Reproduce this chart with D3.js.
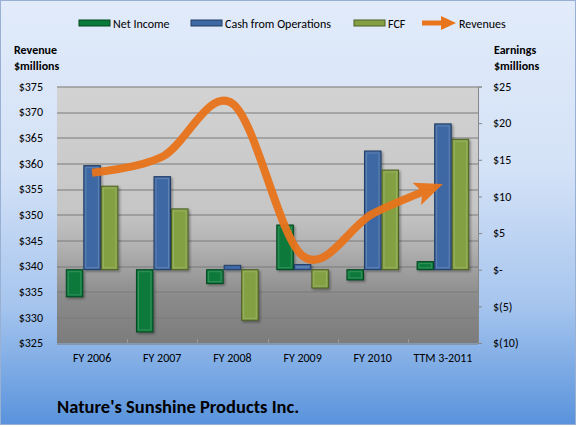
<!DOCTYPE html>
<html>
<head>
<meta charset="utf-8">
<script src="https://cdn.jsdelivr.net/npm/d3@7"></script>
<style>
  body { margin: 0; padding: 0; }
  svg text { font-family: Carlito, Calibri, Lato, "Open Sans", sans-serif; fill: #000; }
</style>
</head>
<body>
<div id="chart"></div>
<script>
// ---- data ----
const categories = ["FY 2006", "FY 2007", "FY 2008", "FY 2009", "FY 2010", "TTM 3-2011"];
const netIncome = [-3.7, -8.5, -1.9, 6.1, -1.4, 1.1];
const cashOps = [14.2, 12.7, 0.6, 0.7, 16.2, 19.9];
const fcf = [11.4, 8.3, -6.9, -2.5, 13.6, 17.8];
const revenues = [358.2, 361.3, 371.7, 342.0, 350.2, 356.0];
const leftTicks = [325, 330, 335, 340, 345, 350, 355, 360, 365, 370, 375];
const rightTicks = [-10, -5, 0, 5, 10, 15, 20, 25];

const series = [
    { name: "Net Income", values: netIncome, fill: "#0b7a3b", stroke: "#05461f" },
    { name: "Cash from Operations", values: cashOps, fill: "#3e68a3", stroke: "#233d63" },
    { name: "FCF", values: fcf, fill: "#83a043", stroke: "#4c5f24" }
];

const W = 577, H = 427;
const margin = { top: 86.5, right: 99, bottom: 84, left: 57 };
const plotW = W - margin.left - margin.right;
const plotH = H - margin.top - margin.bottom;

const svg = d3.select("#chart").append("svg")
    .attr("width", W)
    .attr("height", H);

const defs = svg.append("defs");

// chart background gradient
const bg = defs.append("linearGradient").attr("id", "bgGrad")
    .attr("x1", 0).attr("y1", 0).attr("x2", 0).attr("y2", 1);
bg.append("stop").attr("offset", "0%").attr("stop-color", "#e1ebfa");
bg.append("stop").attr("offset", "40%").attr("stop-color", "#d4e2f7");
bg.append("stop").attr("offset", "72%").attr("stop-color", "#a6c5ee");
bg.append("stop").attr("offset", "100%").attr("stop-color", "#5993dc");

// plot area gradient
const pg = defs.append("linearGradient").attr("id", "plotGrad")
    .attr("x1", 0).attr("y1", 0).attr("x2", 0).attr("y2", 1);
pg.append("stop").attr("offset", "0%").attr("stop-color", "#d3d3d3");
pg.append("stop").attr("offset", "48%").attr("stop-color", "#c6c6c6");
pg.append("stop").attr("offset", "62%").attr("stop-color", "#b2b2b2");
pg.append("stop").attr("offset", "82%").attr("stop-color", "#8b8b8b");
pg.append("stop").attr("offset", "100%").attr("stop-color", "#7c7c7c");

// bar shadow
const shadow = defs.append("filter").attr("id", "shadow")
    .attr("x", "-30%").attr("y", "-30%").attr("width", "160%").attr("height", "160%");
shadow.append("feDropShadow").attr("dx", 1.5).attr("dy", 1.5)
    .attr("stdDeviation", 1).attr("flood-color", "#000").attr("flood-opacity", 0.35);

// arrow head
defs.append("marker").attr("id", "arrow")
    .attr("markerUnits", "userSpaceOnUse")
    .attr("viewBox", "0 0 28 24")
    .attr("markerWidth", 28).attr("markerHeight", 24)
    .attr("refX", 28).attr("refY", 12)
    .attr("orient", "auto")
    .append("path")
    .attr("d", "M0,0 L28,12 L0,24 L6,12 Z")
    .attr("fill", "#e8741c");

svg.append("rect")
    .attr("x", 0.5).attr("y", 0.5)
    .attr("width", W - 2).attr("height", H - 3)
    .attr("fill", "url(#bgGrad)")
    .attr("stroke", "#98b0d2");

const g = svg.append("g")
    .attr("transform", `translate(${margin.left},${margin.top})`);

// ---- scales ----
const x = d3.scaleBand().domain(categories).range([0, plotW]);
const xs = d3.scaleBand().domain(series.map(s => s.name))
    .range([0, x.bandwidth()]).paddingOuter(0.5).paddingInner(0);
const yL = d3.scaleLinear().domain([325, 375]).range([plotH, 0]);
const yR = d3.scaleLinear().domain([-10, 25]).range([plotH, 0]);

g.append("rect")
    .attr("width", plotW).attr("height", plotH)
    .attr("fill", "url(#plotGrad)");

// gridlines
g.append("g").selectAll("line")
    .data(leftTicks)
    .join("line")
    .attr("x1", 0).attr("x2", plotW)
    .attr("y1", d => Math.round(yL(d)) + 0.5)
    .attr("y2", d => Math.round(yL(d)) + 0.5)
    .attr("stroke", "#7a7a7a")
    .attr("stroke-width", 1);

// faint category dividers at bottom
g.append("g").selectAll("line")
    .data(categories.slice(1))
    .join("line")
    .attr("x1", d => Math.round(x(d)) + 0.5).attr("x2", d => Math.round(x(d)) + 0.5)
    .attr("y1", plotH - 4).attr("y2", plotH)
    .attr("stroke", "#9a9a9a");

// ---- axes ----
const leftAxis = g.append("g")
    .call(d3.axisLeft(yL).tickValues(leftTicks).tickSize(0).tickPadding(14)
        .tickFormat(d => "$" + d));
leftAxis.select(".domain").remove();
leftAxis.selectAll("text").attr("font-size", 12).attr("font-family", null);

const rightAxis = g.append("g")
    .attr("transform", `translate(${plotW},0)`)
    .call(d3.axisRight(yR).tickValues(rightTicks).tickSize(4).tickPadding(11)
        .tickFormat(d => d === 0 ? "$-" : d < 0 ? `$(${-d})` : `$${d}`));
rightAxis.select(".domain").attr("stroke", "#878787");
rightAxis.selectAll(".tick line").attr("stroke", "#878787");
rightAxis.selectAll("text").attr("font-size", 12).attr("font-family", null);

const bottomAxis = g.append("g")
    .attr("transform", `translate(0,${plotH})`)
    .call(d3.axisBottom(x).tickSize(0).tickPadding(10));
bottomAxis.select(".domain").remove();
bottomAxis.selectAll("text").attr("font-size", 12).attr("font-family", null);

// ---- bars ----
series.forEach(s => {
    const grp = g.append("g").attr("filter", "url(#shadow)");
    const rows = categories.map((c, i) => ({ c, v: s.values[i] }));
    grp.selectAll("rect.bar")
        .data(rows)
        .join("rect")
        .attr("class", "bar")
        .attr("x", d => x(d.c) + xs(s.name) + 0.5)
        .attr("y", d => yR(Math.max(0, d.v)))
        .attr("width", xs.bandwidth() - 1)
        .attr("height", d => Math.abs(yR(d.v) - yR(0)))
        .attr("fill", s.fill)
        .attr("stroke", s.stroke)
        .attr("stroke-width", 1);
    grp.selectAll("rect.bevel")
        .data(rows.filter(d => Math.abs(yR(d.v) - yR(0)) > 5))
        .join("rect")
        .attr("class", "bevel")
        .attr("x", d => x(d.c) + xs(s.name) + 2.5)
        .attr("y", d => yR(Math.max(0, d.v)) + 2)
        .attr("width", xs.bandwidth() - 5)
        .attr("height", d => Math.abs(yR(d.v) - yR(0)) - 4)
        .attr("fill", "none")
        .attr("stroke", "#ffffff")
        .attr("stroke-opacity", 0.18);
});

// ---- revenue line ----
const line = d3.line()
    .x((d, i) => x(categories[i]) + x.bandwidth() / 2)
    .y(d => yL(d))
    .curve(d3.curveCardinal.tension(0));

const revPath = g.append("path")
    .datum(revenues)
    .attr("d", line)
    .attr("fill", "none")
    .attr("stroke", "#e8741c")
    .attr("stroke-width", 8)
    .attr("opacity", 0.95)
    .attr("marker-end", "url(#arrow)");
const len = revPath.node().getTotalLength();
revPath.attr("stroke-dasharray", `${len - 12} ${len}`);

// ---- axis titles ----
svg.append("text").attr("x", 14).attr("y", 54)
    .attr("font-size", 12).attr("font-weight", "bold").text("Revenue");
svg.append("text").attr("x", 14).attr("y", 70)
    .attr("font-size", 12).attr("font-weight", "bold").text("$millions");
svg.append("text").attr("x", 494).attr("y", 54)
    .attr("font-size", 12).attr("font-weight", "bold").text("Earnings");
svg.append("text").attr("x", 494).attr("y", 70)
    .attr("font-size", 12).attr("font-weight", "bold").text("$millions");

// ---- legend ----
const legendX = [79, 191, 354];
const legend = svg.append("g");
series.forEach((s, i) => {
    legend.append("rect")
        .attr("x", legendX[i]).attr("y", 20)
        .attr("width", 31).attr("height", 6)
        .attr("fill", s.fill).attr("stroke", s.stroke);
    legend.append("text")
        .attr("x", legendX[i] + 34).attr("y", 27.5)
        .attr("font-size", 12).text(s.name);
});
legend.append("line")
    .attr("x1", 422).attr("x2", 444).attr("y1", 23).attr("y2", 23)
    .attr("stroke", "#e8741c").attr("stroke-width", 5);
legend.append("path")
    .attr("d", "M441,16 L456,23 L441,30 Z")
    .attr("fill", "#e8741c");
legend.append("text")
    .attr("x", 459).attr("y", 27.5)
    .attr("font-size", 12).text("Revenues");

// ---- title ----
svg.append("text").attr("x", 57).attr("y", 413)
    .attr("font-size", 18.5).attr("font-weight", "bold")
    .text("Nature's Sunshine Products Inc.");
</script>
</body>
</html>
